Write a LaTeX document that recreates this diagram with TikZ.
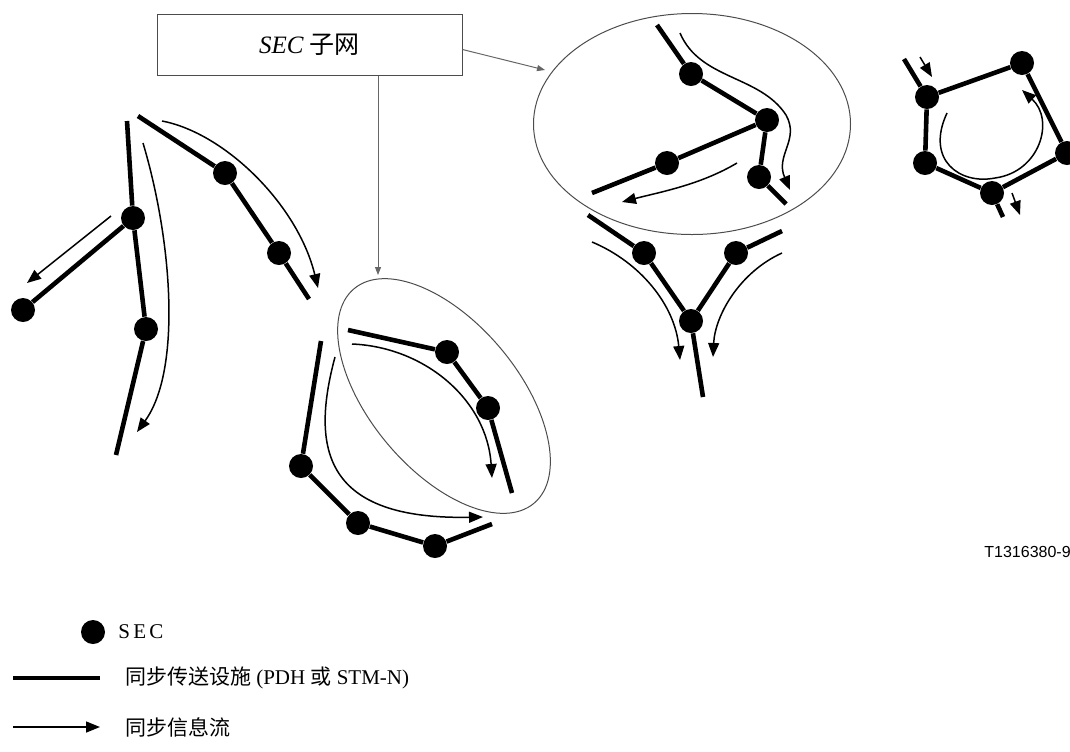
\documentclass[tikz,border=0pt]{standalone}
\usepackage{fontspec}
\setmainfont{Liberation Serif}
\newfontfamily\cjk{Noto Sans CJK SC}
\newfontfamily\arial{Liberation Sans}
\usetikzlibrary{shapes.geometric, arrows.meta, positioning}

\begin{document}
\begin{tikzpicture}[x=0.5pt, y=-0.5pt]
    \tikzstyle{sec} = [circle, fill=black, inner sep=0pt, minimum size=12pt]
    \tikzstyle{link} = [line width=2.3pt]
    \tikzstyle{flow} = [line width=0.75pt, -{Triangle[length=7pt, width=5.5pt]}]
    \tikzstyle{pointer} = [line width=0.5pt, draw=black!60, -{Triangle[length=4pt, width=3pt]}]
    \tikzstyle{subnet} = [ellipse, draw=black!70, line width=0.5pt, inner sep=0pt]
    \tikzstyle{keytext} = [font=\fontsize{10.5}{12.6}\selectfont]

    \useasboundingbox (0,0) rectangle (1070,751);

    % subnet label and the two marked subnets
    \node (box) [rectangle, draw=black!70, line width=0.5pt, minimum width=152.5pt, minimum height=30.5pt, font=\fontsize{12.5}{15}\selectfont] at (309.5,44.5) {\textit{SEC} {\cjk 子网}};
    \node (subnet1) [subnet, minimum width=158.5pt, minimum height=110.5pt] at (692,124) {};
    \node (subnet2) [subnet, minimum width=140pt, minimum height=74pt, rotate=-50] at (444,396) {};
    \coordinate (drop) at (378,275);
    \coordinate (hit) at (545,70);
    \draw [pointer] (box.south -| drop) -- (drop);
    \draw [pointer] ([yshift=-2.5pt]box.east) -- (hit);

    % left tree
    \coordinate (a0) at (127,121);
    \node (s1) [sec] at (133,218) {};
    \node (s2) [sec] at (146,329) {};
    \coordinate (a1) at (116,455);
    \node (s3) [sec] at (23,310) {};
    \coordinate (b0) at (138,116);
    \node (s4) [sec] at (225,173) {};
    \node (s5) [sec] at (279,253) {};
    \coordinate (b1) at (309,299);
    \draw [link] (a0) -- (s1) -- (s2) -- (a1);
    \draw [link] (s1) -- (s3);
    \draw [link] (b0) -- (s4) -- (s5) -- (b1);
    \coordinate (f1a) at (143,143);
    \coordinate (f1b) at (137,432);
    \coordinate (f2a) at (111,216);
    \coordinate (f2b) at (27,283);
    \coordinate (f3a) at (162,121);
    \coordinate (f3b) at (318,288);
    \draw [flow] (f1a) .. controls (172,240) and (182,370) .. (f1b);
    \draw [flow] (f2a) -- (f2b);
    \draw [flow] (f3a) .. controls (225,133) and (298,205) .. (f3b);

    % lower ring part
    \coordinate (c0) at (348,330);
    \node (s6) [sec] at (447,352) {};
    \node (s7) [sec] at (488,408) {};
    \coordinate (c1) at (512,493);
    \coordinate (d0) at (321,341);
    \node (s8) [sec] at (301,466) {};
    \node (s9) [sec] at (358,523) {};
    \node (s10) [sec] at (435,546) {};
    \coordinate (d1) at (492,524);
    \draw [link] (c0) -- (s6) -- (s7) -- (c1);
    \draw [link] (d0) -- (s8) -- (s9) -- (s10) -- (d1);
    \coordinate (f4a) at (352,344);
    \coordinate (f4b) at (492,478);
    \coordinate (f5a) at (335,357);
    \coordinate (f5b) at (483,517);
    \draw [flow] (f4a) .. controls (425,347) and (487,400) .. (f4b);
    \draw [flow] (f5a) .. controls (310,450) and (325,520) .. (f5b);

    % upper subnet
    \coordinate (e0) at (657,25);
    \node (s11) [sec] at (691,74) {};
    \node (s12) [sec] at (767,120) {};
    \node (s13) [sec] at (667,163) {};
    \coordinate (e1) at (592,193);
    \node (s14) [sec] at (759,177) {};
    \coordinate (e2) at (786,204);
    \draw [link] (e0) -- (s11) -- (s12) -- (s13) -- (e1);
    \draw [link] (s12) -- (s14) -- (e2);
    \coordinate (f6a) at (680,33);
    \coordinate (f6b) at (790,190);
    \coordinate (f7a) at (737,163);
    \coordinate (f7b) at (622,202);
    \draw [flow] (f6a) .. controls (700,80) and (760,75) .. (786,115) .. controls (800,140) and (775,155) .. (f6b);
    \draw [flow] (f7a) .. controls (700,185) and (660,192) .. (f7b);

    % merging branch
    \coordinate (g0) at (588,215);
    \node (s15) [sec] at (644,253) {};
    \node (s16) [sec] at (691,321) {};
    \coordinate (g1) at (703,397);
    \node (s17) [sec] at (736,253) {};
    \coordinate (g2) at (782,231);
    \draw [link] (g0) -- (s15) -- (s16) -- (g1);
    \draw [link] (g2) -- (s17) -- (s16);
    \coordinate (f8a) at (592,242);
    \coordinate (f8b) at (680,360);
    \coordinate (f9a) at (782,253);
    \coordinate (f9b) at (713,357);
    \draw [flow] (f8a) .. controls (640,262) and (675,305) .. (f8b);
    \draw [flow] (f9a) .. controls (740,272) and (715,315) .. (f9b);

    % ring on the right
    \coordinate (h0) at (904,59);
    \node (s18) [sec] at (927,97) {};
    \node (s19) [sec] at (1022,63) {};
    \node (s20) [sec] at (1067,153) {};
    \node (s21) [sec] at (992,193) {};
    \node (s22) [sec] at (925,163) {};
    \coordinate (h1) at (1003,217);
    \draw [link] (h0) -- (s18) -- (s19) -- (s20) -- (s21) -- (s22) -- (s18);
    \draw [link] (s21) -- (h1);
    \coordinate (f10a) at (920,57);
    \coordinate (f10b) at (932,77);
    \coordinate (f11a) at (1012,193);
    \coordinate (f11b) at (1020,215);
    \coordinate (f12a) at (947,113);
    \coordinate (f12b) at (1022,90);
    \draw [flow] (f10a) -- (f10b);
    \draw [flow] (f11a) -- (f11b);
    \draw [flow] (f12a) .. controls (925,160) and (960,185) .. (995,178) .. controls (1040,172) and (1055,120) .. (f12b);

    \node (code) [anchor=west, inner sep=0pt, font=\arial\fontsize{8}{10}\selectfont] at (984,552) {T1316380-9};

    % legend
    \node (key1) [sec] at (93,632) {};
    \node (keysec) [keytext, right=3pt of key1] {\addfontfeature{LetterSpace=15}SEC};
    \coordinate (k2a) at (13,678);
    \coordinate (k2b) at (100,678);
    \draw [link] (k2a) -- (k2b);
    \node (keylink) [keytext, right=9pt of k2b] {{\cjk 同步传送设施} (PDH {\cjk 或} STM-N)};
    \coordinate (k3a) at (13,727);
    \coordinate (k3b) at (100,727);
    \draw [flow] (k3a) -- (k3b);
    \node (keyflow) [keytext, right=9pt of k3b] {{\cjk 同步信息流}};
\end{tikzpicture}
\end{document}
